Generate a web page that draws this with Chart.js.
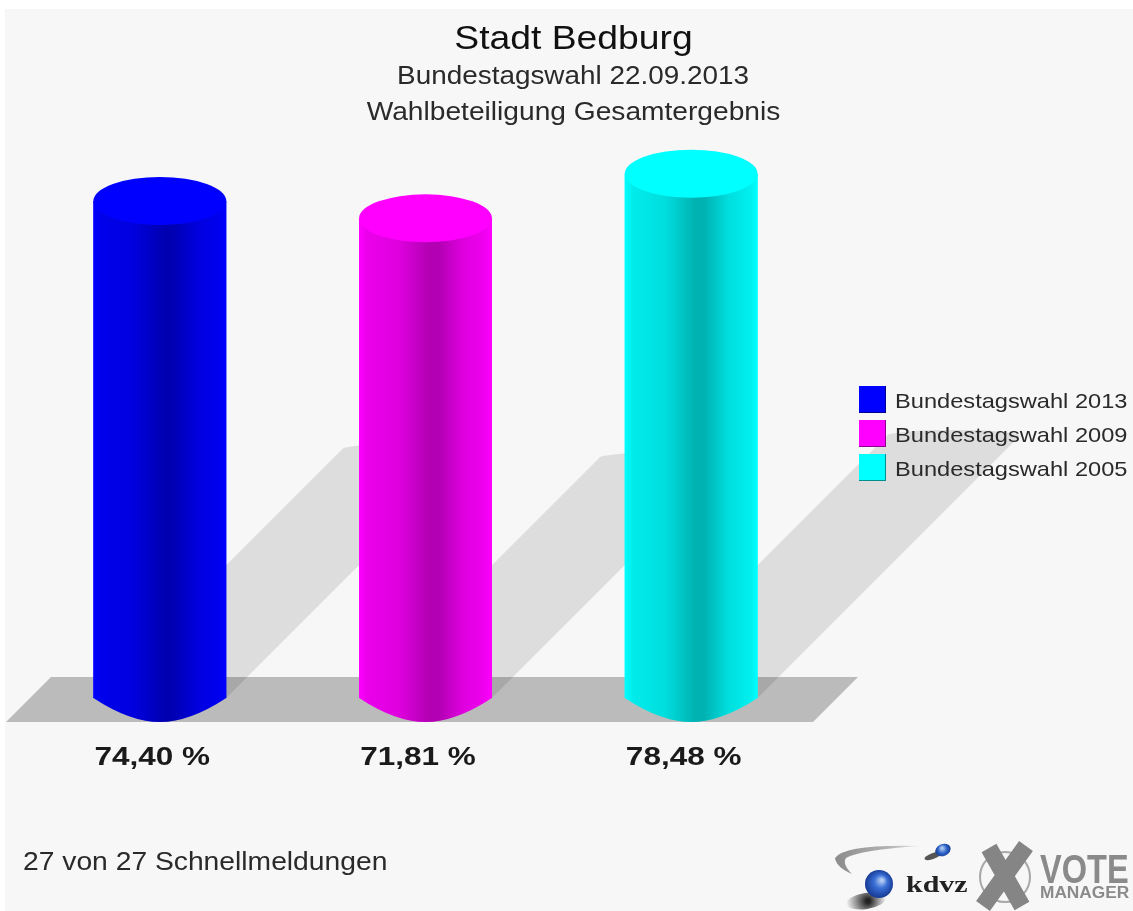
<!DOCTYPE html>
<html>
<head>
<meta charset="utf-8">
<title>Stadt Bedburg</title>
<script src="https://cdn.jsdelivr.net/npm/chart.js@4/dist/chart.umd.min.js"></script>
<style>
    html, body { margin: 0; padding: 0; background: #f7f7f7; }
    #wrap { width: 1133px; height: 911px; overflow: hidden; }
    #grafico { display: block; filter: blur(0.7px); }
</style>
</head>
<body>
<div id="wrap"><canvas id="grafico" width="1133" height="911"></canvas></div>
<script>
var wahlen = ['Bundestagswahl 2013', 'Bundestagswahl 2009', 'Bundestagswahl 2005'];
var beteiligung = [74.40, 71.81, 78.48];
var farben = ['#0000ff', '#ff00ff', '#00ffff'];
var farbenDunkel = ['#000090', '#900090', '#008f8f'];
var titel = 'Stadt Bedburg';
var untertitel = ['Bundestagswahl 22.09.2013', 'Wahlbeteiligung Gesamtergebnis'];
var fussnote = '27 von 27 Schnellmeldungen';

var FONT = '"Liberation Sans", Arial, sans-serif';

// the reference lettering is wider than the font, so sx stretches it
function testo(ctx, str, x, y, font, colore, align, sx) {
    ctx.save();
    ctx.translate(x, y);
    ctx.scale(sx || 1, 1);
    ctx.font = font;
    ctx.fillStyle = colore;
    ctx.textAlign = align || 'left';
    ctx.textBaseline = 'alphabetic';
    ctx.fillText(str, 0, 0);
    ctx.restore();
}

// floor and the slanted shadows, behind the bars
var sfondo3d = {
    id: 'sfondo3d',
    beforeDatasetsDraw: function(chart) {
        var ctx = chart.ctx;
        var base = chart.scales.y.getPixelForValue(0);
        ctx.save();
        ctx.fillStyle = '#bbbbbb';
        ctx.beginPath();
        ctx.moveTo(6, base + 24);
        ctx.lineTo(51, base - 21);
        ctx.lineTo(858, base - 21);
        ctx.lineTo(813, base + 24);
        ctx.closePath();
        ctx.fill();

        var barre = chart.getDatasetMeta(0).data;
        for (var i = 0; i < barre.length; i++) {
            var b = barre[i];
            var r = b.width / 2;
            var d = (base - b.y) * 0.5;
            ctx.fillStyle = 'rgba(0, 0, 0, 0.1)';
            ctx.beginPath();
            ctx.moveTo(b.x - r, base);
            ctx.lineTo(b.x - r + d, base - d);
            ctx.ellipse(b.x + d, base - d, r, 6, 0, Math.PI, 2 * Math.PI);
            ctx.lineTo(b.x + r, base);
            ctx.closePath();
            ctx.fill();
        }
        ctx.restore();
    }
};

// cylinders on top of the bar elements
var cilindri = {
    id: 'cilindri',
    afterDatasetsDraw: function(chart) {
        var ctx = chart.ctx;
        var barre = chart.getDatasetMeta(0).data;
        ctx.save();
        for (var i = 0; i < barre.length; i++) {
            var b = barre[i];
            var r = b.width / 2;
            var ry = 24;

            ctx.beginPath();
            ctx.moveTo(b.x - r, b.y);
            ctx.lineTo(b.x - r, b.base);
            ctx.quadraticCurveTo(b.x - r * 0.45, b.base + ry, b.x, b.base + ry);
            ctx.quadraticCurveTo(b.x + r * 0.45, b.base + ry, b.x + r, b.base);
            ctx.lineTo(b.x + r, b.y);
            ctx.closePath();
            ctx.fillStyle = farben[i];
            ctx.fill();

            var grad = ctx.createLinearGradient(b.x - r, 0, b.x + r, 0);
            grad.addColorStop(0, 'rgba(0,0,0,0)');
            grad.addColorStop(0.06, 'rgba(0,0,0,0.08)');
            grad.addColorStop(0.3, 'rgba(0,0,0,0.13)');
            grad.addColorStop(0.53, 'rgba(0,0,0,0.3)');
            grad.addColorStop(0.6, 'rgba(0,0,0,0.3)');
            grad.addColorStop(0.78, 'rgba(0,0,0,0.13)');
            grad.addColorStop(0.95, 'rgba(0,0,0,0.06)');
            grad.addColorStop(1, 'rgba(0,0,0,0)');
            ctx.fillStyle = grad;
            ctx.fill();

            ctx.fillStyle = farben[i];
            ctx.beginPath();
            ctx.ellipse(b.x, b.y, r, ry, 0, 0, 2 * Math.PI);
            ctx.fill();

            var etichetta = beteiligung[i].toFixed(2).replace('.', ',') + ' %';
            testo(ctx, etichetta, b.x - 7.5, 765, 'bold 25px ' + FONT, '#1a1a1a', 'center', 1.26);
        }
        ctx.restore();
    }
};

function logoKdvz(ctx) {
    // swoosh
    var g = ctx.createLinearGradient(836, 0, 925, 0);
    g.addColorStop(0, '#8c8c8c');
    g.addColorStop(0.6, '#b4b4b4');
    g.addColorStop(1, '#eeeeee');
    ctx.fillStyle = g;
    ctx.beginPath();
    ctx.moveTo(920, 846);
    ctx.quadraticCurveTo(845, 844, 835, 858);
    ctx.quadraticCurveTo(836, 867, 852, 874);
    ctx.quadraticCurveTo(842, 864, 846, 858);
    ctx.quadraticCurveTo(860, 850, 920, 846);
    ctx.fill();

    // small ball with shadow
    ctx.fillStyle = '#555555';
    ctx.beginPath();
    ctx.ellipse(933, 856, 9, 3, -0.35, 0, 2 * Math.PI);
    ctx.fill();
    var p = ctx.createRadialGradient(942, 848, 1, 943, 850, 8);
    p.addColorStop(0, '#a8c4ee');
    p.addColorStop(0.5, '#2d62c8');
    p.addColorStop(1, '#143a8c');
    ctx.fillStyle = p;
    ctx.beginPath();
    ctx.ellipse(943, 850, 8, 6, -0.4, 0, 2 * Math.PI);
    ctx.fill();

    // big ball with shadow
    var o = ctx.createRadialGradient(868, 901, 2, 866, 901, 20);
    o.addColorStop(0, '#222222');
    o.addColorStop(1, 'rgba(60, 60, 60, 0)');
    ctx.fillStyle = o;
    ctx.beginPath();
    ctx.ellipse(866, 901, 20, 8, -0.15, 0, 2 * Math.PI);
    ctx.fill();
    var s = ctx.createRadialGradient(882, 880, 1, 879, 884, 15);
    s.addColorStop(0, '#b4cdf2');
    s.addColorStop(0.4, '#3a6fd6');
    s.addColorStop(1, '#12348c');
    ctx.fillStyle = s;
    ctx.beginPath();
    ctx.arc(879, 884, 14, 0, 2 * Math.PI);
    ctx.fill();

    testo(ctx, 'kdvz', 906, 892, 'bold 24px "Liberation Serif", serif', '#222222', 'left', 1.25);
}

function logoVote(ctx) {
    ctx.strokeStyle = '#a8a8a8';
    ctx.lineWidth = 2;
    ctx.beginPath();
    ctx.arc(1005, 877, 25, 0, 2 * Math.PI);
    ctx.stroke();

    ctx.strokeStyle = '#858585';
    ctx.lineWidth = 17;
    ctx.beginPath();
    ctx.moveTo(989, 848);
    ctx.lineTo(1022, 906);
    ctx.moveTo(1026, 846);
    ctx.lineTo(983, 906);
    ctx.stroke();

    ctx.save();
    ctx.translate(1040, 883);
    ctx.scale(0.88, 1.1);
    testo(ctx, 'VOTE', 0, 0, 'bold 37px ' + FONT, '#8a8a8a');
    ctx.restore();
    testo(ctx, 'MANAGER', 1040, 898, 'bold 16px ' + FONT, '#8a8a8a', 'left', 1.08);
}

var testi = {
    id: 'testi',
    afterDraw: function(chart) {
        var ctx = chart.ctx;
        ctx.save();
        testo(ctx, titel, 573.5, 49, '33px ' + FONT, '#111111', 'center', 1.13);
        testo(ctx, untertitel[0], 573, 84, '25px ' + FONT, '#2a2a2a', 'center', 1.115);
        testo(ctx, untertitel[1], 573.5, 120, '25px ' + FONT, '#2a2a2a', 'center', 1.126);

        for (var i = 0; i < wahlen.length; i++) {
            var y = 386 + i * 34;
            ctx.fillStyle = farben[i];
            ctx.fillRect(859, y, 27, 27);
            ctx.fillStyle = farbenDunkel[i];
            ctx.fillRect(859, y + 26, 27, 1);
            ctx.fillRect(885, y, 1, 27);
            testo(ctx, wahlen[i], 895, y + 22, '21px ' + FONT, '#2a2a2a', 'left', 1.125);
        }

        testo(ctx, fussnote, 23, 870, '25px ' + FONT, '#2a2a2a', 'left', 1.13);
        logoKdvz(ctx);
        logoVote(ctx);
        ctx.restore();
    }
};

var ctx = document.getElementById('grafico');
var chart = new Chart(ctx, {
    type: 'bar',
    data: {
        labels: wahlen,
        datasets: [{
            data: beteiligung,
            backgroundColor: farben,
            borderWidth: 0,
            categoryPercentage: 1,
            barPercentage: 0.5
        }]
    },
    options: {
        responsive: false,
        animation: false,
        layout: { padding: { left: 27, right: 309, top: 30, bottom: 213 } },
        plugins: {
            legend: { display: false },
            tooltip: { enabled: false }
        },
        scales: {
            x: { display: false },
            y: { display: false, min: 0, max: 100 }
        }
    },
    plugins: [
        {
            id: 'fondo',
            beforeDraw: function(c) {
                c.ctx.fillStyle = '#ffffff';
                c.ctx.fillRect(0, 0, c.width, c.height);
                c.ctx.fillStyle = '#f7f7f7';
                c.ctx.fillRect(5, 9, c.width - 5, c.height - 9);
            }
        },
        sfondo3d, cilindri, testi
    ]
});
</script>
</body>
</html>
